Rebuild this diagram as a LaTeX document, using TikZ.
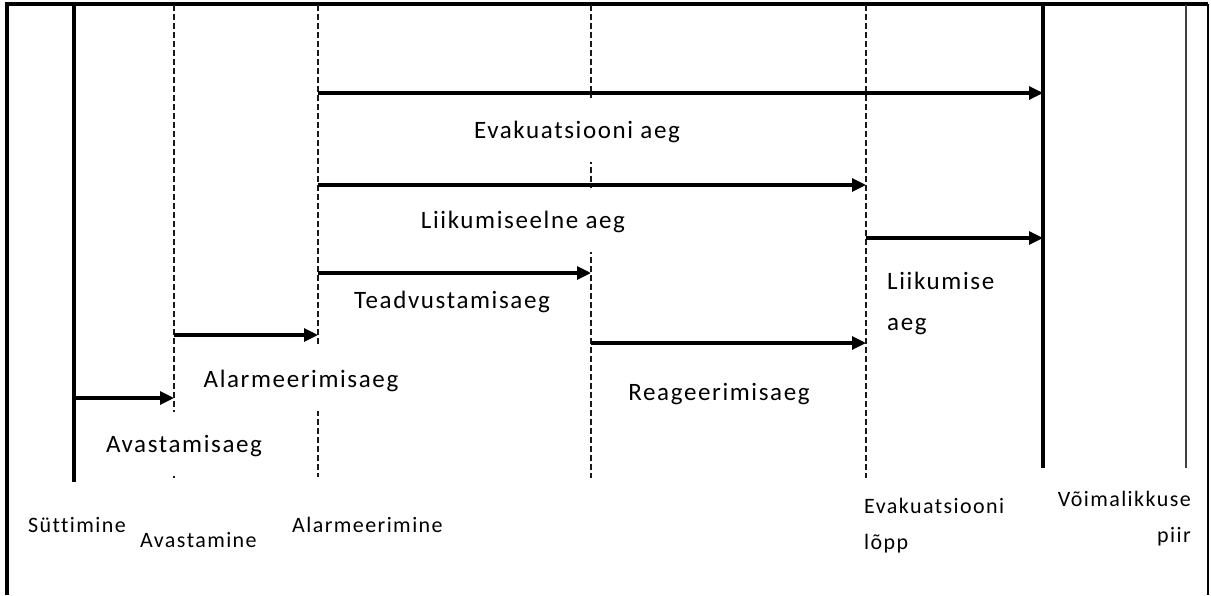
\documentclass[tikz,border=0pt]{standalone}
\usepackage{fontspec}
\setmainfont{Carlito}[LetterSpace=6.5, Ligatures=NoCommon]
\usetikzlibrary{arrows.meta}
\tikzset{
  frame/.style = {line width=3.4pt},
  mainline/.style = {line width=3.4pt},
  thinline/.style = {line width=2.2pt, black!75},
  dashline/.style = {line width=2.2pt, black!90, dash pattern=on 6pt off 3pt},
  arrow/.style = {line width=3.2pt, -{Triangle[length=14pt,width=13pt]}},
  span/.style = {fill=white, inner xsep=3pt, inner ysep=0pt,
    text height=40pt, text depth=24pt, anchor=base,
    font=\fontsize{25}{42}\selectfont},
  event/.style = {inner sep=0pt, anchor=base west, align=left,
    font=\fontsize{22}{36}\selectfont},
}

\begin{document}
\begin{tikzpicture}[x=1pt, y=-1pt]
  \useasboundingbox (0,0) rectangle (1211,595);

  % Frame
  \draw[frame] (7,595) -- (7,4) -- (1208,4);
  \draw[line width=2pt] (1208,4) -- (1208,595);

  % Time points (tops of the vertical lines)
  \coordinate (sut) at (74,5);
  \coordinate (ava) at (174,5);
  \coordinate (ala) at (318,5);
  \coordinate (tea) at (591,5);
  \coordinate (evl) at (866,5);
  \coordinate (voi) at (1043,5);
  \coordinate (pii) at (1186,5);

  % Vertical lines
  \draw[mainline] (sut) -- ++(0,477);
  \draw[dashline] (ava) -- ++(0,473);
  \draw[dashline] (ala) -- ++(0,472);
  \draw[dashline] (tea) -- ++(0,473);
  \draw[dashline] (evl) -- ++(0,473);
  \draw[mainline] (voi) -- ++(0,463);
  \draw[thinline] (pii) -- ++(0,463);

  % Durations
  \node[span] (evak)  at (577,138) {Evakuatsiooni aeg};
  \node[span] (eelne) at (523,228) {Liikumiseelne aeg};
  \node[span] (teadv) at (452,308) {Teadvustamisaeg};
  \node[span] (alarm) at (301,387) {Alarmeerimisaeg};
  \node[span] (avast) at (184,452) {Avastamisaeg};
  \node[span] (reag)  at (719,400) {Reageerimisaeg};
  \node[inner sep=0pt, anchor=base west, align=left,
    font=\fontsize{25}{41}\selectfont] (liik) at (887,330) {Liikumise\\aeg};

  % Arrow rows
  \coordinate (r1) at (0,93);
  \coordinate (r2) at (0,185);
  \coordinate (r3) at (0,238);
  \coordinate (r4) at (0,273);
  \coordinate (r5) at (0,335);
  \coordinate (r6) at (0,343);
  \coordinate (r7) at (0,398);

  \draw[arrow] (sut |- r7) -- (ava |- r7);
  \draw[arrow] (ava |- r5) -- (ala |- r5);
  \draw[arrow] (ala |- r4) -- (tea |- r4);
  \draw[arrow] (tea |- r6) -- (evl |- r6);
  \draw[arrow] (ala |- r2) -- (evl |- r2);
  \draw[arrow] (ala |- r1) -- (voi |- r1);
  \draw[arrow] (evl |- r3) -- (voi |- r3);

  % Events
  \node[event] (e-sut) at (28,532)  {Süttimine};
  \node[event] (e-ava) at (140,547) {Avastamine};
  \node[event] (e-ala) at (292,532) {Alarmeerimine};
  \node[event] (e-evl) at (864,549) {Evakuatsiooni\\lõpp};
  \node[event, anchor=base east, align=right] (e-voi) at (1191,542) {Võimalikkuse\\piir};

\end{tikzpicture}
\end{document}
